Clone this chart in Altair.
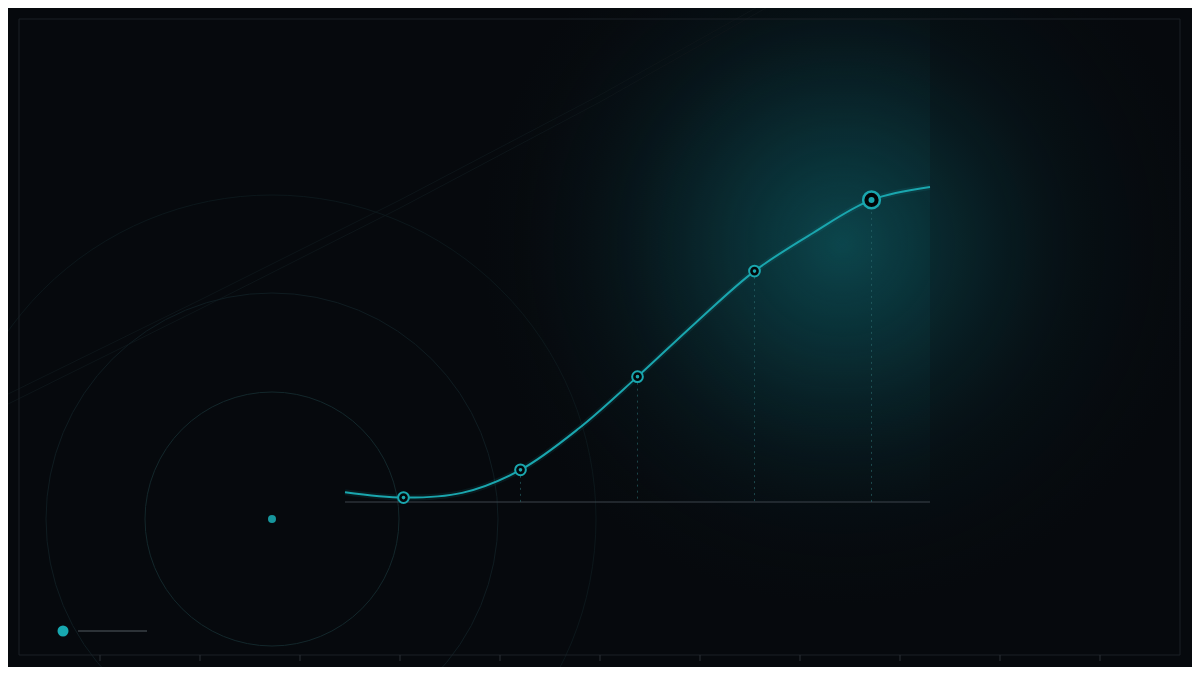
import altair as alt
import pandas as pd

# ---- data ----
step_idx = list(range(11))
values = [3.1, 1.4, 2.9, 10.2, 23.4, 39.8, 57.0, 73.3, 85.4, 95.9, 100.0]
marker_idx = [1, 3, 5, 7, 9]
highlight_idx = 9

W, H = 1184, 659
BG = "#06090d"
TEAL = "#1aa6ae"

series = pd.DataFrame({"step": step_idx, "value": values})
markers = series[series.step.isin(marker_idx)].copy()
markers["base"] = 0.0
reg = markers[markers.step != highlight_idx]
hl = markers[markers.step == highlight_idx]

xs = alt.Scale(domain=[0, 10], range=[337, 922])
ys = alt.Scale(domain=[0, 100], range=[494, 179])


def X(f="step"):
    return alt.X(f"{f}:Q", scale=xs, axis=None)


def Y(f="value"):
    return alt.Y(f"{f}:Q", scale=ys, axis=None)


# page-coordinate scales for decoration
pxs = alt.Scale(domain=[0, 1200], range=[-8, 1192])
pys = alt.Scale(domain=[0, 675], range=[-8, 667])


def PX(f="px"):
    return alt.X(f"{f}:Q", scale=pxs, axis=None)


def PY(f="py"):
    return alt.Y(f"{f}:Q", scale=pys, axis=None)


def PX2(f):
    return alt.X2(f"{f}:Q")


def PY2(f):
    return alt.Y2(f"{f}:Q")


# glow (outer, broad)
glow_outer = alt.Chart(pd.DataFrame({"px": [482], "px2": [1202], "py": [-115], "py2": [605]})).mark_rect(
    fill={
        "gradient": "radial",
        "x1": 0.5, "y1": 0.5, "r1": 0,
        "x2": 0.5, "y2": 0.5, "r2": 0.5,
        "stops": [
            {"offset": 0, "color": "rgba(13,92,100,0.62)"},
            {"offset": 0.3, "color": "rgba(12,80,88,0.40)"},
            {"offset": 0.65, "color": "rgba(10,52,60,0.15)"},
            {"offset": 1, "color": "rgba(8,30,36,0)"},
        ],
    },
    strokeWidth=0,
).encode(x=PX(), x2=PX2("px2"), y=PY(), y2=PY2("py2"))

# glow (plot area, extra)
glow_plot = alt.Chart(pd.DataFrame({"px": [345], "px2": [930], "py": [19], "py2": [502]})).mark_rect(
    fill={
        "gradient": "radial",
        "x1": 0.85, "y1": 0.468, "r1": 0,
        "x2": 0.85, "y2": 0.468, "r2": 0.55,
        "stops": [
            {"offset": 0, "color": "rgba(14,96,104,0.25)"},
            {"offset": 0.5, "color": "rgba(12,70,78,0.14)"},
            {"offset": 1, "color": "rgba(10,40,48,0)"},
        ],
    },
    strokeWidth=0,
).encode(x=PX(), x2=PX2("px2"), y=PY(), y2=PY2("py2"))

# frame
frame = alt.Chart(pd.DataFrame({"px": [19], "px2": [1180], "py": [19], "py2": [655]})).mark_rect(
    fillOpacity=0, stroke="#1a2026", strokeWidth=1
).encode(x=PX(), x2=PX2("px2"), y=PY(), y2=PY2("py2"))

tick_pos = [100, 200, 300, 400, 500, 600, 700, 800, 900, 1000, 1100]
ticks = alt.Chart(pd.DataFrame({"px": tick_pos, "py": [655] * 11, "py2": [661] * 11})).mark_rule(
    color="#2a3137", strokeWidth=1
).encode(x=PX(), y=PY(), y2=PY2("py2"))

# concentric decorative circles
radii = [127, 226, 324]
circ = pd.DataFrame({"px": [272] * 3, "py": [519] * 3, "s": [(2 * r) ** 2 for r in radii],
                     "k": ["a", "b", "c"]})
circles = alt.Chart(circ).mark_point(shape="circle", filled=False, strokeWidth=1, opacity=1).encode(
    x=PX(), y=PY(),
    size=alt.Size("s:Q", scale=None, legend=None),
    stroke=alt.Stroke("k:N", scale=alt.Scale(domain=["a", "b", "c"], range=["#13272b", "#0f1c21", "#0c171b"]), legend=None),
)
center_dot = alt.Chart(pd.DataFrame({"px": [272], "py": [519]})).mark_point(
    shape="circle", filled=True, color="#17969d", size=64, opacity=1
).encode(x=PX(), y=PY())

# diagonal faint lines
diag = pd.DataFrame({
    "px": [0, 200, 400, 600, 770, 0, 200, 400, 600, 780],
    "py": [398, 300, 200, 95, 0, 408, 309, 208, 102, 0],
    "g": ["a"] * 5 + ["b"] * 5,
})
diagonals = alt.Chart(diag).mark_line(color="#0d1519", strokeWidth=1).encode(
    x=PX(), y=PY(), detail="g:N"
)

# legend
legend_dot = alt.Chart(pd.DataFrame({"px": [63], "py": [631]})).mark_point(
    shape="circle", filled=True, color="#17a8b0", size=121, opacity=1
).encode(x=PX(), y=PY())
legend_line = alt.Chart(pd.DataFrame({"px": [78], "px2": [147], "py": [631]})).mark_rule(
    color="#3a4046", strokeWidth=1.5
).encode(x=PX(), x2=PX2("px2"), y=PY())

# baseline
baseline = alt.Chart(pd.DataFrame({"step": [0], "step2": [10], "value": [0]})).mark_rule(
    color="#3c454c", strokeWidth=1
).encode(x=X(), x2=alt.X2("step2:Q"), y=Y())

# dotted drops
drops = alt.Chart(markers).mark_rule(
    color="#2c6a70", strokeWidth=1, strokeDash=[2, 4], opacity=0.6
).encode(x=X(), y=Y(), y2=alt.Y2("base:Q"))

# line with glow
line_glow = alt.Chart(series).mark_line(
    color=TEAL, strokeWidth=6, opacity=0.1, interpolate="catmull-rom"
).encode(x=X(), y=Y())
line = alt.Chart(series).mark_line(
    color=TEAL, strokeWidth=2, interpolate="catmull-rom"
).encode(x=X(), y=Y())

# markers
ring = alt.Chart(reg).mark_point(
    shape="circle", filled=True, fill="#03070a", stroke=TEAL, strokeWidth=2, size=115, opacity=1
).encode(x=X(), y=Y())
ring_dot = alt.Chart(reg).mark_point(
    shape="circle", filled=True, color=TEAL, size=13, opacity=1
).encode(x=X(), y=Y())
hl_ring = alt.Chart(hl).mark_point(
    shape="circle", filled=True, fill="#020507", stroke=TEAL, strokeWidth=2.5, size=280, opacity=1
).encode(x=X(), y=Y())
hl_dot = alt.Chart(hl).mark_point(
    shape="circle", filled=True, color=TEAL, size=36, opacity=1
).encode(x=X(), y=Y())

chart = alt.layer(
    glow_outer, glow_plot, diagonals, circles, center_dot, frame, ticks,
    legend_line, legend_dot, baseline, drops, line_glow, line,
    ring, ring_dot, hl_ring, hl_dot,
).resolve_scale(
    x="independent", y="independent"
).properties(
    width=W, height=H, padding=0,
    autosize=alt.AutoSizeParams(type="none"),
    background=BG,
).configure_view(strokeWidth=0)

chart.save("out.html", embed_options={"renderer": "svg", "actions": False})
